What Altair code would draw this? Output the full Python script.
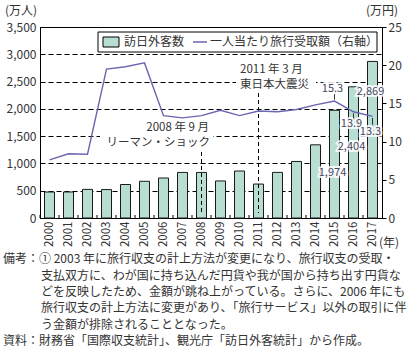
import altair as alt
import pandas as pd

FONT = "Noto Sans CJK JP"
BAR_COLOR = "#b8ddd3"
LINE_COLOR = "#6b66b0"
TEXT_COLOR = "#333333"
LABEL_COLOR = "#45455f"

# ---- data ----
years = ["2000", "2001", "2002", "2003", "2004", "2005", "2006", "2007", "2008",
         "2009", "2010", "2011", "2012", "2013", "2014", "2015", "2016", "2017"]
visitors = [476, 477, 524, 521, 614, 673, 733, 835, 835, 679, 861, 622, 836,
            1036, 1341, 1974, 2404, 2869]
receipts = [7.6, 8.4, 8.35, 19.5, 19.8, 20.3, 13.4, 13.1, 13.4, 14.1, 13.4, 14.0,
            13.9, 14.2, 14.8, 15.3, 13.9, 13.3]

left_ticks = [0, 500, 1000, 1500, 2000, 2500, 3000, 3500]
right_ticks = [0, 5, 10, 15, 20, 25]

bar_label_years = ["2015", "2016", "2017"]
bar_label_text = ["1,974", "2,404", "2,869"]
bar_label_pos = [825, 1300, 2310]

line_label_years = ["2015", "2016", "2017"]
line_label_text = ["15.3", "13.9", "13.3"]
line_label_pos = [16.9, 12.3, 11.3]
leader_top = [16.2, 13.7, 13.1]
leader_bottom = [15.5, 12.9, 12.2]

event_years = ["2008", "2011"]
event_top = [1210, 2290]
event_bottom = [90, 90]

legend_labels = ["訪日外客数", "一人当たり旅行受取額（右軸）"]
notes = [
    "備考：① 2003 年に旅行収支の計上方法が変更になり、旅行収支の受取・",
    "支払双方に、わが国に持ち込んだ円貨や我が国から持ち出す円貨な",
    "どを反映したため、金額が跳ね上がっている。さらに、2006 年にも",
    "旅行収支の計上方法に変更があり、「旅行サービス」以外の取引に伴",
    "う金額が排除されることとなった。",
    "資料：財務省「国際収支統計」、観光庁「訪日外客統計」から作成。",
]

df = pd.DataFrame({"year": years, "visitors": visitors, "receipts": receipts})
bar_lab = pd.DataFrame({"year": bar_label_years, "t": bar_label_text, "v": bar_label_pos})
line_lab = pd.DataFrame({"year": line_label_years, "t": line_label_text, "v": line_label_pos,
                         "a": leader_top, "b": leader_bottom})
events = pd.DataFrame({"year": event_years, "top": event_top, "bottom": event_bottom})
one = pd.DataFrame({"k": [0]})

xscale = alt.Scale(domain=years, paddingInner=0, paddingOuter=0)
xaxis = alt.Axis(title=None, labelAngle=270, labelAlign="right", labelBaseline="middle",
                 labelPadding=3, ticks=False, labelFontSize=11.5, labelColor=TEXT_COLOR,
                 labelFont=FONT, domainColor="black", grid=False)


def X(**kw):
    return alt.X("year:N", scale=xscale, sort=years, axis=xaxis, **kw)


ly = alt.Scale(domain=[0, 3500], nice=False)
ry = alt.Scale(domain=[0, 25], nice=False)
laxis = alt.Axis(title=None, values=left_ticks, labelExpr="format(datum.value, ',')",
                 ticks=False, labelPadding=4,
                 labelFontSize=12, labelColor=TEXT_COLOR, labelFont=FONT,
                 domainColor="black", grid=True, gridColor="black", gridDash=[5, 3],
                 gridWidth=1)
raxis = alt.Axis(title=None, orient="right", values=right_ticks,
                 labelExpr="format(datum.value, 'd')", tickSize=4,
                 tickColor="black", labelPadding=2, labelFontSize=12,
                 labelColor=TEXT_COLOR, labelFont=FONT, domainColor="black", grid=False)


def LY(field):
    return alt.Y(field, scale=ly, axis=laxis)


def RY(field):
    return alt.Y(field, scale=ry, axis=raxis)


# ---- left (visitors) layer ----
bars = alt.Chart(df).mark_bar(width=10, fill=BAR_COLOR, stroke="#1a1a1a", strokeWidth=1).encode(
    x=X(), y=LY("visitors:Q"))


def vrect(x1, x2, y1, y2, fill="white", stroke=None):
    kw = dict(fill=fill)
    if stroke:
        kw.update(stroke=stroke, strokeWidth=1)
    return alt.Chart(one).mark_rect(**kw).encode(
        x=alt.value(x1), x2=alt.value(x2), y=alt.value(y1), y2=alt.value(y2))


def vtext(s, x, y, align="left", size=12, color=TEXT_COLOR):
    return alt.Chart(one).mark_text(text=s, align=align, baseline="middle", fontSize=size,
                                    font=FONT, color=color).encode(x=alt.value(x), y=alt.value(y))


mask_lehman = vrect(60, 173, 93, 123)
mask_quake = vrect(196, 276, 35, 65)

event_rules = alt.Chart(events).mark_rule(color="black", strokeDash=[4, 3], strokeWidth=1).encode(
    x=X(), y=LY("top:Q"), y2="bottom:Q")

ticks = alt.Chart(df).mark_rule(color="black", strokeWidth=1).encode(
    x=X(bandPosition=0), y=alt.value(188), y2=alt.value(191))

bar_halo = alt.Chart(bar_lab).mark_text(fontSize=11, font=FONT, dx=-2, stroke="white",
                                        strokeWidth=4, strokeOpacity=0.85, fill="white").encode(
    x=X(), y=LY("v:Q"), text="t:N")
bar_text = alt.Chart(bar_lab).mark_text(fontSize=11, font=FONT, dx=-2, color=LABEL_COLOR).encode(
    x=X(), y=LY("v:Q"), text="t:N")

legend_box = vrect(58, 337, 5, 25, stroke="black")
legend_swatch = vrect(63, 79, 10, 20, fill=BAR_COLOR, stroke="black")
legend_line = alt.Chart(one).mark_rule(color=LINE_COLOR, strokeWidth=1.5).encode(
    x=alt.value(153), x2=alt.value(167), y=alt.value(15))

texts = [
    vtext(legend_labels[0], 84, 15),
    vtext(legend_labels[1], 170, 15),
    vtext("2008 年 9 月", 169, 101, align="right", size=11.5),
    vtext("リーマン・ショック", 170, 116, align="right", size=11.5),
    vtext("2011 年 3 月", 200, 43, size=11.5),
    vtext("東日本大震災", 200, 58, size=11.5),
    vtext("(万人)", -19, -16, align="center"),
    vtext("(万円)", 342, -16, align="center"),
    vtext("(年)", 349, 216, align="center"),
    vtext(notes[0], -37, 232),
    vtext(notes[1], 1, 249),
    vtext(notes[2], 1, 265),
    vtext(notes[3], 1, 281),
    vtext(notes[4], 1, 298),
    vtext(notes[5], -37, 314),
]

left = alt.layer(mask_lehman, mask_quake, bars, ticks, event_rules, bar_halo, bar_text,
                 legend_box, legend_swatch, legend_line, *texts)

# ---- right (receipts) layer ----
line = alt.Chart(df).mark_line(color=LINE_COLOR, strokeWidth=1.4).encode(
    x=X(), y=RY("receipts:Q"))
leaders = alt.Chart(line_lab).mark_rule(color="#333333", strokeWidth=1).encode(
    x=X(), y=RY("a:Q"), y2="b:Q")
line_halo = alt.Chart(line_lab).mark_text(fontSize=11, font=FONT, dx=-2, stroke="white",
                                          strokeWidth=4, strokeOpacity=0.85, fill="white").encode(
    x=X(), y=RY("v:Q"), text="t:N")
line_text = alt.Chart(line_lab).mark_text(fontSize=11, font=FONT, dx=-2, color=LABEL_COLOR).encode(
    x=X(), y=RY("v:Q"), text="t:N")

right = alt.layer(line, leaders, line_halo, line_text)

chart = alt.layer(left, right).resolve_scale(y="independent").properties(
    width=342, height=191,
    autosize=alt.AutoSizeParams(type="none"),
    padding={"left": 40, "top": 27, "right": 25, "bottom": 131},
).configure(font=FONT, background="white").configure_view(stroke="black", strokeWidth=1)

chart.save("out.html", embed_options={"renderer": "svg", "actions": False})
